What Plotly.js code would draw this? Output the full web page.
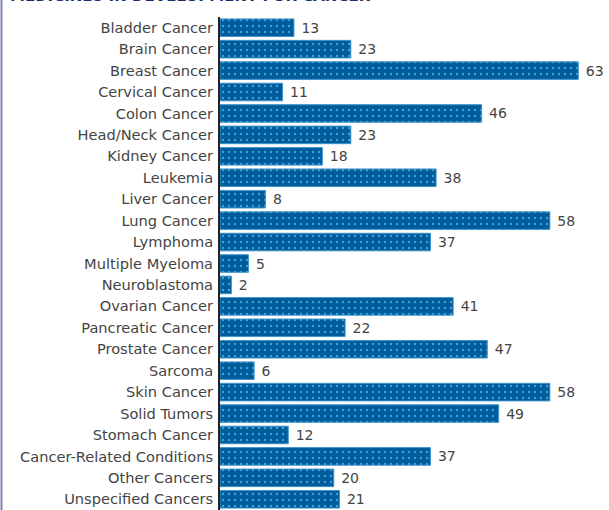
<!DOCTYPE html>
<html>
<head>
<meta charset="utf-8">
<script src="https://cdn.plot.ly/plotly-3.0.1.min.js"></script>
<style>html,body{margin:0;padding:0;background:#fff}#chart{width:609px;height:510px}</style>
</head>
<body>
<div id="chart"></div>
<script>
const categories = [
  "Bladder Cancer","Brain Cancer","Breast Cancer","Cervical Cancer","Colon Cancer",
  "Head/Neck Cancer","Kidney Cancer","Leukemia","Liver Cancer","Lung Cancer",
  "Lymphoma","Multiple Myeloma","Neuroblastoma","Ovarian Cancer","Pancreatic Cancer",
  "Prostate Cancer","Sarcoma","Skin Cancer","Solid Tumors","Stomach Cancer",
  "Cancer-Related Conditions","Other Cancers","Unspecified Cancers"
];
const medicines = [13,23,63,11,46,23,18,38,8,58,37,5,2,41,22,47,6,58,49,12,37,20,21];
const chartTitle = "MEDICINES IN DEVELOPMENT FOR CANCER";

const trace = {
  type: "bar",
  orientation: "h",
  y: categories,
  x: medicines,
  text: medicines.map(v => "\u00a0" + v),
  textposition: "outside",
  textfont: {family: "DejaVu Sans", size: 14, color: "#444"},
  cliponaxis: false,
  marker: {
    color: "#005c9a",
    line: {color: "#3d95cc", width: 1},
    pattern: {shape: ".", fgcolor: "#3aa3da", bgcolor: "#005c9a", size: 6, solidity: 0.12}
  },
  hoverinfo: "none"
};

const layout = {
  width: 609, height: 510,
  margin: {l: 220, r: 0, t: 17, b: 0, pad: 0},
  paper_bgcolor: "#ffffff", plot_bgcolor: "#ffffff",
  showlegend: false,
  bargap: 0.18,
  font: {family: "DejaVu Sans", size: 13, color: "#333"},
  xaxis: {range: [0, 68.4], showgrid: false, zeroline: false, showticklabels: false, ticks: "", showline: false, fixedrange: true},
  yaxis: {
    type: "category", autorange: "reversed",
    showline: true, linecolor: "#222", linewidth: 2,
    ticks: "", showgrid: false,
    tickfont: {family: "DejaVu Sans", size: 14.6, color: "#444"},
    ticklabelstandoff: 2
  },
  annotations: [{
    text: "<b>" + chartTitle + "</b>",
    xref: "paper", yref: "paper", x: -0.545, y: 1.043,
    xanchor: "left", yanchor: "middle", showarrow: false,
    font: {family: "DejaVu Sans", size: 15, color: "#1c2a6e"}
  }],
  shapes: [{
    type: "line", xref: "paper", yref: "paper",
    x0: -0.5617, x1: -0.5617, y0: -0.01, y1: 1.05,
    line: {color: "#7f80b4", width: 2}
  }]
};

Plotly.newPlot("chart", [trace], layout, {displayModeBar: false, staticPlot: true});
</script>
</body>
</html>
